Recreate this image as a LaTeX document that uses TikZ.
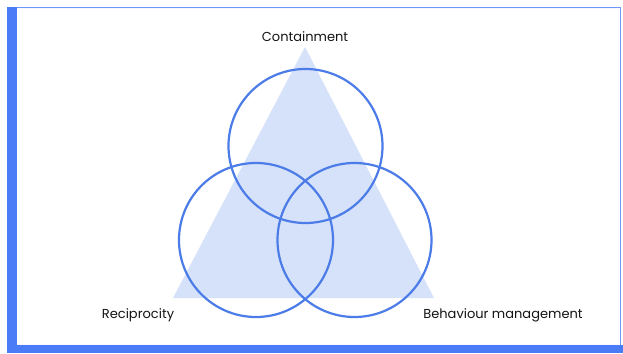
\documentclass[tikz,border=0pt]{standalone}
\usepackage{fontspec}
\setmainfont{Poppins}
\definecolor{framebar}{RGB}{74,124,248}
\definecolor{ringblue}{RGB}{76,124,232}
\definecolor{trifill}{RGB}{214,225,250}
\begin{document}
\begin{tikzpicture}[x=1pt,y=-1pt,
  ring/.style={draw=ringblue,line width=2.2pt},
  label/.style={font=\fontsize{13}{15}\selectfont,text=black!92,inner sep=0pt}]
\useasboundingbox (0,0) rectangle (623,353);
\fill[white] (0,0) rectangle (623,353);
% frame
\fill[white!97!blue] (17,8) rectangle (619,345);
\fill[white] (17,9) rectangle (618,344);
\draw[framebar!80,line width=1pt] (7,7.5) -- (620,7.5) -- (620,346);
\fill[framebar] (7,7) rectangle (17,353);
\fill[framebar] (7,345) rectangle (623,353);
% triangle
\fill[trifill] (305,47) -- (434,298) -- (173,298) -- cycle;
% rings
\coordinate (ctop) at (305.5,146);
\coordinate (cleft) at (256,240);
\coordinate (cright) at (354.5,240);
\draw[ring] (ctop) circle[radius=77];
\draw[ring] (cleft) circle[radius=77];
\draw[ring] (cright) circle[radius=77];
% labels
\node[label] (containment) at (305,37) {Containment};
\node[label] (reciprocity) at (138,315) {Reciprocity};
\node[label] (behaviour) at (503,315) {Behaviour management};
\end{tikzpicture}
\end{document}
